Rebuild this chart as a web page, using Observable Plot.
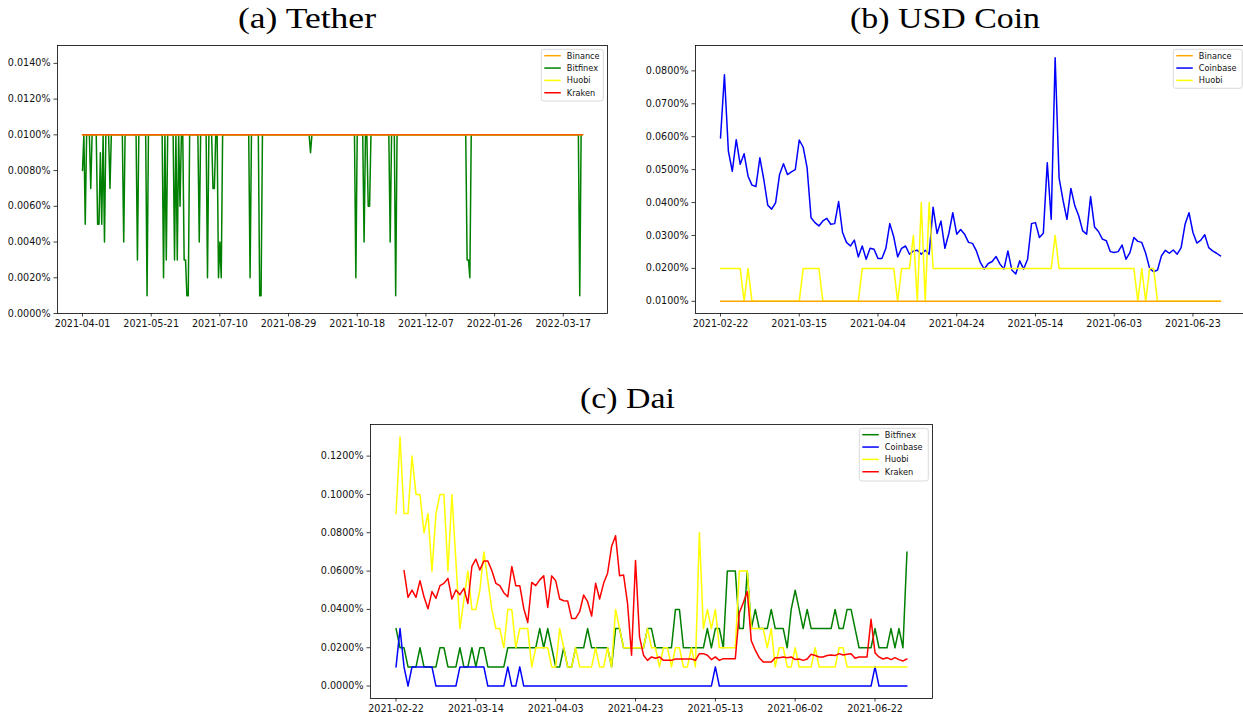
<!DOCTYPE html>
<html>
<head>
<meta charset="utf-8">
<script src="https://cdn.jsdelivr.net/npm/d3@7"></script>
<script src="https://cdn.jsdelivr.net/npm/@observablehq/plot@0.6"></script>
<style>
html, body { margin: 0; padding: 0; background: #fff; }
body { width: 1243px; height: 717px; position: relative; overflow: hidden; }
.panel { position: absolute; }
</style>
</head>
<body>
<script>
// ---------------- (a) Tether: daily values in %, 2021-04-01 .. 2022-03-31 ----------------
const tetherTickLabels = ["2021-04-01","2021-05-21","2021-07-10","2021-08-29","2021-10-18","2021-12-07","2022-01-26","2022-03-17"];
const tetherYTicks = [0, .002, .004, .006, .008, .01, .012, .014];
const tetherBinance = [
.01,.01,.01,.01,.01,.01,.01,.01,.01,.01,.01,.01,.01,.01,.01,.01,.01,.01,.01,.01,
.01,.01,.01,.01,.01,.01,.01,.01,.01,.01,.01,.01,.01,.01,.01,.01,.01,.01,.01,.01,
.01,.01,.01,.01,.01,.01,.01,.01,.01,.01,.01,.01,.01,.01,.01,.01,.01,.01,.01,.01,
.01,.01,.01,.01,.01,.01,.01,.01,.01,.01,.01,.01,.01,.01,.01,.01,.01,.01,.01,.01,
.01,.01,.01,.01,.01,.01,.01,.01,.01,.01,.01,.01,.01,.01,.01,.01,.01,.01,.01,.01,
.01,.01,.01,.01,.01,.01,.01,.01,.01,.01,.01,.01,.01,.01,.01,.01,.01,.01,.01,.01,
.01,.01,.01,.01,.01,.01,.01,.01,.01,.01,.01,.01,.01,.01,.01,.01,.01,.01,.01,.01,
.01,.01,.01,.01,.01,.01,.01,.01,.01,.01,.01,.01,.01,.01,.01,.01,.01,.01,.01,.01,
.01,.01,.01,.01,.01,.01,.01,.01,.01,.01,.01,.01,.01,.01,.01,.01,.01,.01,.01,.01,
.01,.01,.01,.01,.01,.01,.01,.01,.01,.01,.01,.01,.01,.01,.01,.01,.01,.01,.01,.01,
.01,.01,.01,.01,.01,.01,.01,.01,.01,.01,.01,.01,.01,.01,.01,.01,.01,.01,.01,.01,
.01,.01,.01,.01,.01,.01,.01,.01,.01,.01,.01,.01,.01,.01,.01,.01,.01,.01,.01,.01,
.01,.01,.01,.01,.01,.01,.01,.01,.01,.01,.01,.01,.01,.01,.01,.01,.01,.01,.01,.01,
.01,.01,.01,.01,.01,.01,.01,.01,.01,.01,.01,.01,.01,.01,.01,.01,.01,.01,.01,.01,
.01,.01,.01,.01,.01,.01,.01,.01,.01,.01,.01,.01,.01,.01,.01,.01,.01,.01,.01,.01,
.01,.01,.01,.01,.01,.01,.01,.01,.01,.01,.01,.01,.01,.01,.01,.01,.01,.01,.01,.01,
.01,.01,.01,.01,.01,.01,.01,.01,.01,.01,.01,.01,.01,.01,.01,.01,.01,.01,.01,.01,
.01,.01,.01,.01,.01,.01,.01,.01,.01,.01,.01,.01,.01,.01,.01,.01,.01,.01,.01,.01,
.01,.01,.01,.01,.01];
const tetherBitfinex = [
.008,.01,.005,.01,.01,.01,.007,.01,.01,.01,   .01,.005,.005,.009,.005,.01,.004,.01,.01,.01,
.007,.01,.01,.01,.01,.01,.01,.01,.01,.01,     .004,.01,.01,.01,.01,.01,.01,.01,.01,.01,
.003,.01,.01,.01,.01,.01,.01,.001,.01,.01,    .01,.01,.01,.01,.01,.01,.01,.01,.01,.002,
.01,.003,.01,.01,.01,.01,.01,.003,.01,.003,   .01,.006,.01,.01,.003,.003,.001,.001,.01,.01,
.01,.01,.01,.01,.01,.004,.01,.01,.01,.01,     .01,.002,.01,.01,.01,.007,.007,.01,.01,.002,
.004,.002,.01,.01,.01,.01,.01,.01,.01,.01,    .01,.01,.01,.01,.01,.01,.01,.01,.01,.01,
.01,.01,.002,.01,.01,.01,.01,.01,.01,.001,    .001,.01,.01,.01,.01,.01,.01,.01,.01,.01,
.01,.01,.01,.01,.01,.01,.01,.01,.01,.01,      .01,.01,.01,.01,.01,.01,.01,.01,.01,.01,
.01,.01,.01,.01,.01,.01,.009,.01,.01,.01,     .01,.01,.01,.01,.01,.01,.01,.01,.01,.01,
.01,.01,.01,.01,.01,.01,.01,.01,.01,.01,      .01,.01,.01,.01,.01,.01,.01,.01,.01,.002,
.01,.01,.01,.01,.01,.004,.01,.01,.006,.006,   .01,.01,.01,.01,.01,.01,.01,.01,.01,.01,
.01,.01,.01,.01,.004,.01,.01,.01,.001,.01,    .01,.01,.01,.01,.01,.01,.01,.01,.01,.01,
.01,.01,.01,.01,.01,.01,.01,.01,.01,.01,      .01,.01,.01,.01,.01,.01,.01,.01,.01,.01,
.01,.01,.01,.01,.01,.01,.01,.01,.01,.01,      .01,.01,.01,.01,.01,.01,.01,.01,.01,.01,
.003,.003,.002,.01,.01,.01,.01,.01,.01,.01,   .01,.01,.01,.01,.01,.01,.01,.01,.01,.01,
.01,.01,.01,.01,.01,.01,.01,.01,.01,.01,      .01,.01,.01,.01,.01,.01,.01,.01,.01,.01,
.01,.01,.01,.01,.01,.01,.01,.01,.01,.01,      .01,.01,.01,.01,.01,.01,.01,.01,.01,.01,
.01,.01,.01,.01,.01,.01,.01,.01,.01,.01,      .01,.01,.01,.01,.01,.01,.01,.01,.01,.01,
.01,.01,.001,.01,.01];
const tetherHuobi = [
.01,.01,.01,.01,.01,.01,.01,.01,.01,.01,.01,.01,.01,.01,.01,.01,.01,.01,.01,.01,
.01,.01,.01,.01,.01,.01,.01,.01,.01,.01,.01,.01,.01,.01,.01,.01,.01,.01,.01,.01,
.01,.01,.01,.01,.01,.01,.01,.01,.01,.01,.01,.01,.01,.01,.01,.01,.01,.01,.01,.01,
.01,.01,.01,.01,.01,.01,.01,.01,.01,.01,.01,.01,.01,.01,.01,.01,.01,.01,.01,.01,
.01,.01,.01,.01,.01,.01,.01,.01,.01,.01,.01,.01,.01,.01,.01,.01,.01,.01,.01,.01,
.01,.01,.01,.01,.01,.01,.01,.01,.01,.01,.01,.01,.01,.01,.01,.01,.01,.01,.01,.01,
.01,.01,.01,.01,.01,.01,.01,.01,.01,.01,.01,.01,.01,.01,.01,.01,.01,.01,.01,.01,
.01,.01,.01,.01,.01,.01,.01,.01,.01,.01,.01,.01,.01,.01,.01,.01,.01,.01,.01,.01,
.01,.01,.01,.01,.01,.01,.01,.01,.01,.01,.01,.01,.01,.01,.01,.01,.01,.01,.01,.01,
.01,.01,.01,.01,.01,.01,.01,.01,.01,.01,.01,.01,.01,.01,.01,.01,.01,.01,.01,.01,
.01,.01,.01,.01,.01,.01,.01,.01,.01,.01,.01,.01,.01,.01,.01,.01,.01,.01,.01,.01,
.01,.01,.01,.01,.01,.01,.01,.01,.01,.01,.01,.01,.01,.01,.01,.01,.01,.01,.01,.01,
.01,.01,.01,.01,.01,.01,.01,.01,.01,.01,.01,.01,.01,.01,.01,.01,.01,.01,.01,.01,
.01,.01,.01,.01,.01,.01,.01,.01,.01,.01,.01,.01,.01,.01,.01,.01,.01,.01,.01,.01,
.01,.01,.01,.01,.01,.01,.01,.01,.01,.01,.01,.01,.01,.01,.01,.01,.01,.01,.01,.01,
.01,.01,.01,.01,.01,.01,.01,.01,.01,.01,.01,.01,.01,.01,.01,.01,.01,.01,.01,.01,
.01,.01,.01,.01,.01,.01,.01,.01,.01,.01,.01,.01,.01,.01,.01,.01,.01,.01,.01,.01,
.01,.01,.01,.01,.01,.01,.01,.01,.01,.01,.01,.01,.01,.01,.01,.01,.01,.01,.01,.01,
.01,.01,.01,.01,.01];
const tetherKraken = [
.01,.01,.01,.01,.01,.01,.01,.01,.01,.01,.01,.01,.01,.01,.01,.01,.01,.01,.01,.01,
.01,.01,.01,.01,.01,.01,.01,.01,.01,.01,.01,.01,.01,.01,.01,.01,.01,.01,.01,.01,
.01,.01,.01,.01,.01,.01,.01,.01,.01,.01,.01,.01,.01,.01,.01,.01,.01,.01,.01,.01,
.01,.01,.01,.01,.01,.01,.01,.01,.01,.01,.01,.01,.01,.01,.01,.01,.01,.01,.01,.01,
.01,.01,.01,.01,.01,.01,.01,.01,.01,.01,.01,.01,.01,.01,.01,.01,.01,.01,.01,.01,
.01,.01,.01,.01,.01,.01,.01,.01,.01,.01,.01,.01,.01,.01,.01,.01,.01,.01,.01,.01,
.01,.01,.01,.01,.01,.01,.01,.01,.01,.01,.01,.01,.01,.01,.01,.01,.01,.01,.01,.01,
.01,.01,.01,.01,.01,.01,.01,.01,.01,.01,.01,.01,.01,.01,.01,.01,.01,.01,.01,.01,
.01,.01,.01,.01,.01,.01,.01,.01,.01,.01,.01,.01,.01,.01,.01,.01,.01,.01,.01,.01,
.01,.01,.01,.01,.01,.01,.01,.01,.01,.01,.01,.01,.01,.01,.01,.01,.01,.01,.01,.01,
.01,.01,.01,.01,.01,.01,.01,.01,.01,.01,.01,.01,.01,.01,.01,.01,.01,.01,.01,.01,
.01,.01,.01,.01,.01,.01,.01,.01,.01,.01,.01,.01,.01,.01,.01,.01,.01,.01,.01,.01,
.01,.01,.01,.01,.01,.01,.01,.01,.01,.01,.01,.01,.01,.01,.01,.01,.01,.01,.01,.01,
.01,.01,.01,.01,.01,.01,.01,.01,.01,.01,.01,.01,.01,.01,.01,.01,.01,.01,.01,.01,
.01,.01,.01,.01,.01,.01,.01,.01,.01,.01,.01,.01,.01,.01,.01,.01,.01,.01,.01,.01,
.01,.01,.01,.01,.01,.01,.01,.01,.01,.01,.01,.01,.01,.01,.01,.01,.01,.01,.01,.01,
.01,.01,.01,.01,.01,.01,.01,.01,.01,.01,.01,.01,.01,.01,.01,.01,.01,.01,.01,.01,
.01,.01,.01,.01,.01,.01,.01,.01,.01,.01,.01,.01,.01,.01,.01,.01,.01,.01,.01,.01,
.01,.01,.01,.01,.01];

// ---------------- (b) USD Coin: daily values in %, 128 days from 2021-02-22 ----------------
const usdcTickLabels = ["2021-02-22","2021-03-15","2021-04-04","2021-04-24","2021-05-14","2021-06-03","2021-06-23"];
const usdcYTicks = [.01, .02, .03, .04, .05, .06, .07, .08];
const usdcBinance = [
.01,.01,.01,.01,.01,.01,.01,.01,.01,.01,.01,.01,.01,.01,.01,.01,.01,.01,.01,.01,
.01,.01,.01,.01,.01,.01,.01,.01,.01,.01,.01,.01,.01,.01,.01,.01,.01,.01,.01,.01,
.01,.01,.01,.01,.01,.01,.01,.01,.01,.01,.01,.01,.01,.01,.01,.01,.01,.01,.01,.01,
.01,.01,.01,.01,.01,.01,.01,.01,.01,.01,.01,.01,.01,.01,.01,.01,.01,.01,.01,.01,
.01,.01,.01,.01,.01,.01,.01,.01,.01,.01,.01,.01,.01,.01,.01,.01,.01,.01,.01,.01,
.01,.01,.01,.01,.01,.01,.01,.01,.01,.01,.01,.01,.01,.01,.01,.01,.01,.01,.01,.01,
.01,.01,.01,.01,.01,.01,.01,.01];
const usdcCoinbase = [
.0596,.0788,.0556,.0495,.0591,.0516,.0548,.048,.0453,.0449,
.0536,.047,.0392,.038,.04,.0485,.0518,.0485,.0493,.05,
.059,.0568,.0505,.0354,.0339,.0329,.0344,.0352,.0334,.0336,
.0403,.0309,.0279,.0268,.0286,.0235,.0268,.0228,.0261,.0258,
.023,.023,.0261,.0336,.0296,.0235,.0261,.0268,.0243,.0253,
.0255,.0243,.0255,.0243,.0386,.0306,.0344,.0261,.0306,.0369,
.0304,.0318,.0304,.0279,.0276,.0253,.0218,.0198,.0215,.0221,
.0236,.0213,.0198,.0253,.0195,.0183,.0223,.0198,.0228,.0336,
.0339,.0294,.0307,.0521,.0349,.084,.0475,.0407,.0349,.0443,
.039,.0359,.0314,.0304,.0418,.0326,.0312,.0289,.0284,.0251,
.0248,.0251,.0271,.0228,.0248,.0294,.0282,.0279,.0246,.02,
.019,.0195,.0238,.0255,.0246,.0256,.0243,.0263,.0334,.0369,
.0309,.0277,.0286,.0302,.0263,.0253,.0246,.0238];
const usdcHuobi = [
.02,.02,.02,.02,.02,.02,.01,.02,.01,.01,
.01,.01,.01,.01,.01,.01,.01,.01,.01,.01,
.01,.02,.02,.02,.02,.02,.01,.01,.01,.01,
.01,.01,.01,.01,.01,.01,.02,.02,.02,.02,
.02,.02,.02,.02,.02,.01,.02,.02,.02,.03,
.01,.04,.01,.04,.02,.02,.02,.02,.02,.02,
.02,.02,.02,.02,.02,.02,.02,.02,.02,.02,
.02,.02,.02,.02,.02,.02,.02,.02,.02,.02,
.02,.02,.02,.02,.02,.03,.02,.02,.02,.02,
.02,.02,.02,.02,.02,.02,.02,.02,.02,.02,
.02,.02,.02,.02,.02,.02,.01,.02,.01,.02,
.02,.01,.01,.01,.01,.01,.01,.01,.01,.01,
.01,.01,.01,.01,.01,.01,.01,.01];

// ---------------- (c) Dai: daily values in %, 129 days from 2021-02-22 ----------------
const daiTickLabels = ["2021-02-22","2021-03-14","2021-04-03","2021-04-23","2021-05-13","2021-06-02","2021-06-22"];
const daiYTicks = [0, .02, .04, .06, .08, .1, .12];
const daiBitfinex = [
.03,.02,.02,.01,.01,.01,.02,.01,.01,.01,
.01,.02,.02,.01,.01,.01,.02,.01,.01,.02,
.01,.02,.02,.01,.01,.01,.01,.01,.02,.02,
.02,.02,.02,.02,.02,.02,.03,.02,.03,.02,
.01,.01,.02,.01,.01,.02,.02,.02,.03,.02,
.02,.02,.02,.02,.01,.03,.03,.02,.02,.02,
.02,.02,.02,.03,.03,.02,.02,.02,.02,.02,
.04,.04,.02,.02,.02,.02,.02,.02,.03,.02,
.03,.03,.02,.06,.06,.06,.03,.03,.06,.03,
.04,.03,.03,.03,.04,.03,.03,.03,.02,.04,
.05,.04,.03,.04,.03,.03,.03,.03,.03,.03,
.04,.03,.03,.04,.04,.03,.02,.02,.02,.02,
.03,.02,.02,.02,.03,.02,.03,.02,.07];
const daiCoinbase = [
.01,.03,.01,0,.01,.01,.01,.01,.01,.01,
0,0,0,0,0,0,.01,.01,.01,.01,
.01,.01,.01,0,0,0,0,0,.01,0,
0,.01,0,0,0,0,0,0,0,0,
0,0,0,0,0,0,0,0,0,0,
0,0,0,0,0,0,0,0,0,0,
0,0,0,0,0,0,0,0,0,0,
0,0,0,0,0,0,0,0,0,0,
.01,0,0,0,0,0,0,0,0,0,
0,0,0,0,0,0,0,0,0,0,
0,0,0,0,0,0,0,0,0,0,
0,0,0,0,0,0,0,0,0,0,
.01,0,0,0,0,0,0,0,0];
const daiHuobi = [
.09,.13,.09,.09,.12,.10,.10,.08,.09,.06,
.09,.10,.10,.06,.10,.065,.03,.045,.06,.04,
.04,.05,.07,.055,.04,.03,.03,.02,.04,.04,
.02,.03,.03,.03,.01,.02,.02,.02,.02,.01,
.01,.03,.02,.01,.01,.02,.01,.01,.01,.01,
.02,.01,.01,.02,.01,.04,.03,.02,.02,.02,
.02,.02,.02,.03,.02,.02,.01,.02,.02,.01,
.02,.02,.01,.01,.02,.01,.08,.03,.04,.03,
.04,.02,.02,.02,.02,.02,.06,.06,.06,.03,
.03,.03,.03,.02,.03,.01,.02,.02,.01,.01,
.02,.01,.01,.01,.01,.02,.01,.01,.01,.01,
.01,.02,.02,.01,.01,.01,.01,.01,.01,.01,
.01,.01,.01,.01,.01,.01,.01,.01,.01];
const daiKraken = [
null,null,.0603,.0463,.0501,.0463,.055,.0466,.0403,.0493,
.0458,.0524,.0536,.0562,.0454,.0501,.0477,.051,.0431,.0624,
.0662,.0606,.0652,.0652,.0603,.0536,.0524,.0487,.0466,.0624,
.0524,.0524,.0405,.0332,.0541,.0524,.0554,.0575,.041,.0575,
.055,.0454,.0445,.0444,.0353,.0353,.0388,.0475,.044,.0365,
.0536,.0454,.0536,.0589,.0728,.0784,.0576,.058,.0431,.0161,
.0655,.0257,.0161,.0134,.0152,.0145,.0152,.0134,.0134,.0134,
.0141,.0141,.0141,.0141,.0141,.0134,.0169,.0169,.0161,.0138,
.0152,.0134,.0143,.0143,.0143,.0143,.0383,.0435,.0493,.0236,
.0187,.0148,.0126,.0126,.0126,.0148,.0148,.0152,.0148,.0152,
.0138,.0141,.0134,.0141,.0166,.0159,.0152,.0152,.0159,.0162,
.0159,.0169,.0162,.0166,.0169,.0145,.0152,.0152,.0152,.0348,
.0173,.0152,.0141,.0148,.0138,.0148,.0138,.0131,.0141];

// ---------------- titles & legends ----------------
const titles = ["(a) Tether", "(b) USD Coin", "(c) Dai"];
const tetherNames = ["Binance", "Bitfinex", "Huobi", "Kraken"];
const usdcNames = ["Binance", "Coinbase", "Huobi"];
const daiNames = ["Bitfinex", "Coinbase", "Huobi", "Kraken"];

const C = {orange: "#ffa500", green: "#008000", yellow: "#ffff00", red: "#ff0000", blue: "#0000ff"};
const rows = a => a.map((v, i) => ({i, v}));
const fmtPct = v => v.toFixed(4) + "%";

function padded(arrays) {
  const ext = d3.extent(arrays.flat());
  const r = ext[1] - ext[0];
  return [ext[0] - 0.05 * r, ext[1] + 0.05 * r];
}

function panel(o) {
  const n = o.series[0].values.length;
  const pad = 0.05 * (n - 1);
  const svg = Plot.plot({
    width: o.width, height: o.height,
    marginLeft: o.ml, marginRight: o.mr, marginTop: o.mt, marginBottom: o.mb,
    x: {type: "linear", domain: [-pad, n - 1 + pad], label: null},
    y: {type: "linear", domain: o.yDomain, label: null},
    style: {fontFamily: "'DejaVu Sans', sans-serif", fontSize: "9.6px", color: "#111", background: "transparent", overflow: "visible"},
    marks: [
      ...o.series.map(s => Plot.line(rows(s.values), {x: "i", y: "v", stroke: s.color, strokeWidth: 1.5, strokeOpacity: s.opacity ?? 1})),
      Plot.frame({stroke: "#000", strokeWidth: 0.8}),
      Plot.axisX({ticks: o.xLabels.map((_, k) => k * o.xStep), tickFormat: d => o.xLabels[Math.round(d / o.xStep)],
                  tickSize: 3.5, tickPadding: 3.5, strokeWidth: 0.8, label: null}),
      Plot.axisY({ticks: o.yTicks, tickFormat: fmtPct, tickSize: 3.5, tickPadding: 3.5, strokeWidth: 0.8, label: null})
    ]
  });
  svg.classList.add("panel");
  svg.style.left = o.left + "px";
  svg.style.top = o.top + "px";
  document.body.appendChild(svg);
}

// (a) Tether
panel({
  left: 0, top: 0, width: 620, height: 340, ml: 57, mr: 13, mt: 45, mb: 27,
  yDomain: [0, 0.015], yTicks: tetherYTicks, xStep: 50, xLabels: tetherTickLabels,
  series: [
    {values: tetherBinance, color: C.orange},
    {values: tetherBitfinex, color: C.green},
    {values: tetherHuobi, color: C.yellow},
    {values: tetherKraken, color: C.red, opacity: 0.65}
  ]
});

// (b) USD Coin
panel({
  left: 620, top: 0, width: 640, height: 340, ml: 75, mr: 15, mt: 45, mb: 27,
  yDomain: padded([usdcBinance, usdcCoinbase, usdcHuobi]), yTicks: usdcYTicks, xStep: 20, xLabels: usdcTickLabels,
  series: [
    {values: usdcCoinbase, color: C.blue},
    {values: usdcHuobi, color: C.yellow},
    {values: usdcBinance, color: C.orange}
  ]
});

// (c) Dai
panel({
  left: 320, top: 400, width: 640, height: 317, ml: 50, mr: 28, mt: 24, mb: 19,
  yDomain: padded([daiBitfinex, daiCoinbase, daiHuobi, daiKraken]), yTicks: daiYTicks, xStep: 20, xLabels: daiTickLabels,
  series: [
    {values: daiBitfinex, color: C.green},
    {values: daiCoinbase, color: C.blue},
    {values: daiHuobi, color: C.yellow},
    {values: daiKraken, color: C.red}
  ]
});

// ---------------- overlay: titles and legends ----------------
const ov = d3.create("svg")
  .attr("width", 1243).attr("height", 717)
  .style("position", "absolute").style("left", "0px").style("top", "0px").style("pointer-events", "none");

const titleSpecs = [
  {text: titles[0], x: 307, y: 28, len: 138},
  {text: titles[1], x: 945, y: 28, len: 190},
  {text: titles[2], x: 627.5, y: 408, len: 95}
];
for (const t of titleSpecs) {
  ov.append("text").attr("x", t.x).attr("y", t.y).attr("text-anchor", "middle")
    .attr("font-family", "'Liberation Serif', serif").attr("font-size", 30)
    .attr("textLength", t.len).attr("lengthAdjust", "spacingAndGlyphs")
    .attr("fill", "#000").text(t.text);
}

function legend(box, names, colors) {
  const g = ov.append("g");
  g.append("rect").attr("x", box.x).attr("y", box.y).attr("width", box.w).attr("height", box.h)
    .attr("rx", 2.5).attr("fill", "rgba(255,255,255,0.8)").attr("stroke", "#d0d0d0").attr("stroke-width", 0.8);
  names.forEach((name, k) => {
    const y = box.y + 6.4 + k * 12.35;
    g.append("line").attr("x1", box.x + 3).attr("x2", box.x + 19.5).attr("y1", y).attr("y2", y)
      .attr("stroke", colors[k]).attr("stroke-width", 1.5);
    g.append("text").attr("x", box.x + 25.5).attr("y", y).attr("dy", "0.35em")
      .attr("font-family", "'DejaVu Sans', sans-serif").attr("font-size", 8.2).attr("fill", "#111").text(name);
  });
}
legend({x: 541.3, y: 49.3, w: 62, h: 51.7}, tetherNames, [C.orange, C.green, C.yellow, C.red]);
legend({x: 1173.3, y: 49.3, w: 69, h: 39}, usdcNames, [C.orange, C.blue, C.yellow]);
legend({x: 859.3, y: 428.3, w: 69, h: 52.7}, daiNames, [C.green, C.blue, C.yellow, C.red]);

document.body.appendChild(ov.node());
</script>
</body>
</html>
